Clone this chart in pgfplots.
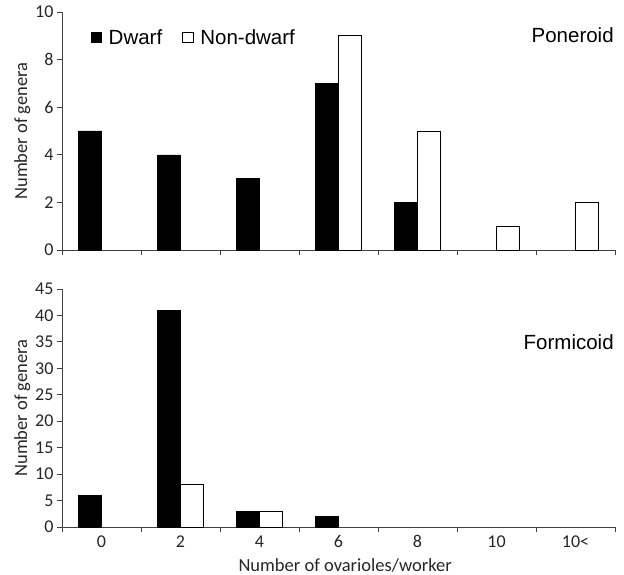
\documentclass[border=0pt]{standalone}
\usepackage{pgfplots}
\pgfplotsset{compat=1.18}
\usepackage{fontspec}
\setmainfont{Carlito}
\newfontfamily\arial{Liberation Sans}
\begin{document}
\begin{tikzpicture}
\useasboundingbox (0pt,0pt) rectangle (624pt,575pt);
\pgfplotsset{
  every axis/.append style={
    scale only axis, width=553pt, height=238pt,
    xmin=-0.5, xmax=6.5,
    axis x line=bottom, axis y line=left, axis line style={-, line width=0.8pt, black!75},
    ybar=0pt, bar width=23pt,
    xtick={0,...,6}, major x tick style={draw=none},
    minor xtick={-0.5,0.5,...,6.5},
    tick align=outside, major tick length=5pt, minor tick length=5pt,
    tick style={black!75, line width=0.8pt},
    ylabel={Number of genera},
    ylabel style={at={(axis description cs:-0.072,0.5)}, anchor=center, font=\fontsize{18.5}{20}\selectfont, text=black!85},
    tick label style={font=\fontsize{18}{20}\selectfont, text=black!85},
    /pgf/number format/assume math mode=true,
    clip=false,
  },
}
\begin{axis}[at={(62pt,325pt)}, anchor=south west,
  ymin=0, ymax=10, ytick={0,2,...,10},
  xticklabels={},
  legend style={draw=none, fill=none, at={(axis description cs:0.046,0.893)}, anchor=west,
    font=\arial\fontsize{20.5}{22}\selectfont, legend columns=2,
    /tikz/every odd column/.append style={column sep=5pt},
    /tikz/every even column/.append style={column sep=18pt}},
  legend image code/.code={\draw[#1, line width=0.6pt] (0pt,-5.25pt) rectangle (10.5pt,5.25pt);},
]
\addplot[fill=black, draw=black] coordinates {(0,5) (1,4) (2,3) (3,7) (4,2)};
\addplot[fill=white, draw=black, line width=0.8pt] coordinates {(3,9) (4,5) (5,1) (6,2)};
\legend{Dwarf, Non-dwarf}
\node[anchor=base east, inner sep=0pt, font=\arial\fontsize{20.5}{22}\selectfont] at (rel axis cs:0.998,0.87) {Poneroid};
\end{axis}
\begin{axis}[at={(62pt,48pt)}, anchor=south west,
  ymin=0, ymax=45, ytick={0,5,...,45},
  xticklabels={0,2,4,6,8,10,10<},
  xlabel={Number of ovarioles/worker},
  xlabel style={at={(axis description cs:0.512,-0.16)}, anchor=center, font=\fontsize{18.5}{20}\selectfont, text=black!85},
]
\addplot[fill=black, draw=black, bar shift=-11.5pt] coordinates {(0,6) (1,41) (2,3) (3,2)};
\addplot[fill=white, draw=black, line width=0.8pt, bar shift=11.5pt] coordinates {(1,8) (2,3)};
\node[anchor=base east, inner sep=0pt, font=\arial\fontsize{20.5}{22}\selectfont] at (rel axis cs:0.998,0.744) {Formicoid};
\end{axis}
\end{tikzpicture}
\end{document}
